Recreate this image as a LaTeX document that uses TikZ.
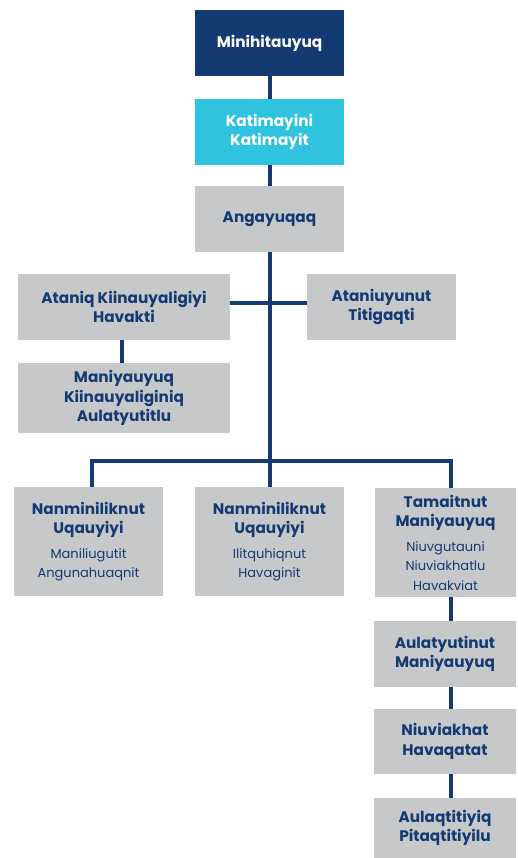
\documentclass[tikz,border=0pt]{standalone}
\usepackage{fontspec}
\setmainfont{Poppins}
\usetikzlibrary{backgrounds}
\definecolor{navy}{HTML}{133A73}
\definecolor{cyanb}{HTML}{2FC3DF}
\definecolor{greyb}{HTML}{C7C8CA}
\newcommand\subfont{\mdseries\fontsize{13}{16}\selectfont}
\begin{document}
\begin{tikzpicture}[x=1pt,y=-1pt,
  box/.style={fill=greyb, text=navy, font=\bfseries\fontsize{15.3}{19.5}\selectfont, align=center, inner sep=0pt, minimum width=149pt, minimum height=66pt},
  conn/.style={draw=navy, line width=4pt}]
\useasboundingbox (0,0) rectangle (517,858);
\node[box, fill=navy, text=white] (top) at (269.5,43) {Minihitauyuq};
\node[box, fill=cyanb, text=white] (cya) at (269.5,132) {Katimayini\\Katimayit};
\node[box] (ang) at (269.5,219) {Angayuqaq};
\node[box, minimum width=212pt] (ata) at (124,307) {Ataniq Kiinauyaligiyi\\Havakti};
\node[box] (atu) at (381.5,307) {Ataniuyunut\\Titigaqti};
\node[box, minimum width=212pt, minimum height=70pt] (man) at (124,398) {Maniyauyuq\\Kiinauyaliginiq\\Aulatyutitlu};
\node[box, minimum height=109pt] (b1) at (88.5,541.5) {Nanminiliknut\\Uqauyiyi\\[5pt]\subfont Maniliugutit\\\subfont Angunahuaqnit};
\node[box, minimum height=109pt] (b2) at (269.5,541.5) {Nanminiliknut\\Uqauyiyi\\[5pt]\subfont Ilitquhiqnut\\\subfont Havaginit};
\node[box, minimum width=141pt, minimum height=109pt] (b3) at (445.5,542.5) {Tamaitnut\\Maniyauyuq\\[5pt]\subfont Niuvgutauni\\\subfont Niuviakhatlu\\\subfont Havakviat};
\node[box, minimum width=142pt] (c1) at (445,654) {Aulatyutinut\\Maniyauyuq};
\node[box, minimum width=142pt, minimum height=65pt] (c2) at (445,741.5) {Niuviakhat\\Havaqatat};
\node[box, minimum width=142pt, minimum height=60pt] (c3) at (445,828) {Aulaqtitiyiq\\Pitaqtitiyilu};
\coordinate (bus) at (270,461);
\begin{scope}[on background layer]
\draw[conn] (top.south -| bus) -- (bus);
\draw[conn] (ata.east |- 0,303) -- (atu.west |- 0,303);
\draw[conn] (ata.south -| 122,0) -- (man.north -| 122,0);
\draw[conn] (b1.north -| 92,0) |- (bus) -| (b3.north -| 451,0);
\draw[conn] (bus) -- (b2.north -| bus);
\draw[conn] (b3.south -| 451,0) -- (c3.north -| 451,0);
\end{scope}
\end{tikzpicture}
\end{document}
